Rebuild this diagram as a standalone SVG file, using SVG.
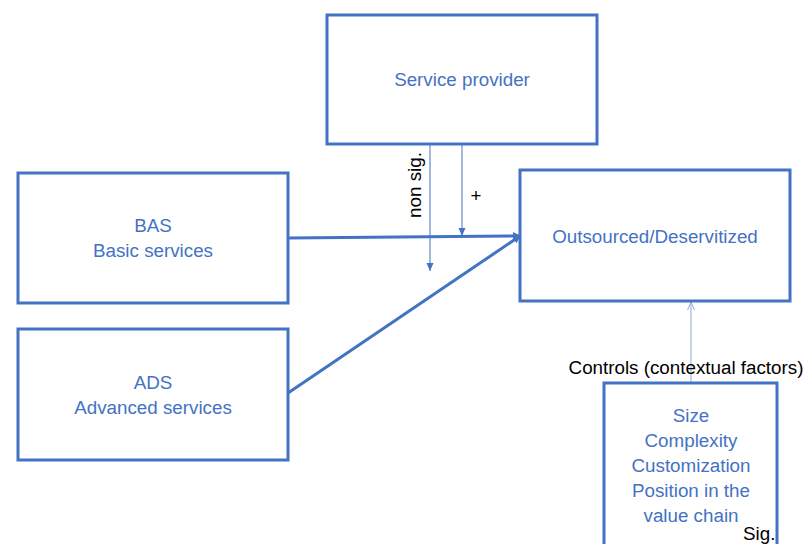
<svg xmlns="http://www.w3.org/2000/svg" width="803" height="544" viewBox="0 0 803 544">
<style>
.box{fill:#fff;stroke:#4472C4;stroke-width:3}
.lbl{font-family:"Liberation Sans",Arial,sans-serif;font-size:18.8px;fill:#4472C4;text-anchor:middle}
.blk{font-family:"Liberation Sans",Arial,sans-serif;font-size:18.8px;fill:#000}
.thick{stroke:#4472C4;stroke-width:3;fill:none}
.thin{stroke:#4472C4;stroke-width:1;fill:none}
</style>
<defs>
<marker id="ah" markerWidth="8" markerHeight="8" refX="7" refY="4" orient="auto" markerUnits="userSpaceOnUse" viewBox="0 0 8 8"><path d="M0,0 L8,4 L0,8 Z" fill="#4472C4"/></marker>
<marker id="ahs" markerWidth="8" markerHeight="8" refX="8" refY="4" orient="auto" markerUnits="userSpaceOnUse" viewBox="0 0 8 8"><path d="M0,0.5 L8,4 L0,7.5 Z" fill="#4472C4"/></marker>
<marker id="aho" markerWidth="10" markerHeight="10" refX="9" refY="5" orient="auto" markerUnits="userSpaceOnUse" viewBox="0 0 10 10"><path d="M1,1.5 L9,5 L1,8.5" fill="none" stroke="#8FAADC" stroke-width="1"/></marker>
</defs>
<g id="connectors">
<line class="thick" x1="288" y1="238" x2="520" y2="236" marker-end="url(#ah)"/>
<line class="thick" x1="288" y1="393" x2="520" y2="236" marker-end="url(#ah)"/>
<line class="thin" x1="430" y1="145" x2="430" y2="271" marker-end="url(#ahs)"/>
<line class="thin" x1="462" y1="145" x2="462" y2="236" marker-end="url(#ahs)"/>
<line x1="691" y1="383" x2="691" y2="302" stroke="#8FAADC" stroke-width="1" marker-end="url(#aho)"/>
<text class="blk" transform="translate(421,185) rotate(-90)" text-anchor="middle">non sig.</text>
<text class="blk" x="476" y="202" text-anchor="middle">+</text>
<text class="blk" x="686" y="374" text-anchor="middle">Controls (contextual factors)</text>
</g>
<g id="service-provider">
<rect class="box" x="327" y="15" width="270" height="129"/>
<text class="lbl" x="462" y="86">Service provider</text>
</g>
<g id="bas">
<rect class="box" x="18" y="173" width="270" height="130"/>
<text class="lbl" x="153" y="232">BAS</text>
<text class="lbl" x="153" y="257">Basic services</text>
</g>
<g id="ads">
<rect class="box" x="18" y="329" width="270" height="131"/>
<text class="lbl" x="153" y="389">ADS</text>
<text class="lbl" x="153" y="414">Advanced services</text>
</g>
<g id="outsourced">
<rect class="box" x="520" y="170" width="270" height="131"/>
<text class="lbl" x="655" y="243">Outsourced/Deservitized</text>
</g>
<g id="controls">
<rect class="box" x="604" y="383" width="173" height="170"/>
<text class="lbl" x="691" y="422">Size</text>
<text class="lbl" x="691" y="447">Complexity</text>
<text class="lbl" x="691" y="472">Customization</text>
<text class="lbl" x="691" y="497">Position in the</text>
<text class="lbl" x="691" y="522">value chain</text>
<text class="blk" x="743" y="540">Sig.</text>
</g>
</svg>
